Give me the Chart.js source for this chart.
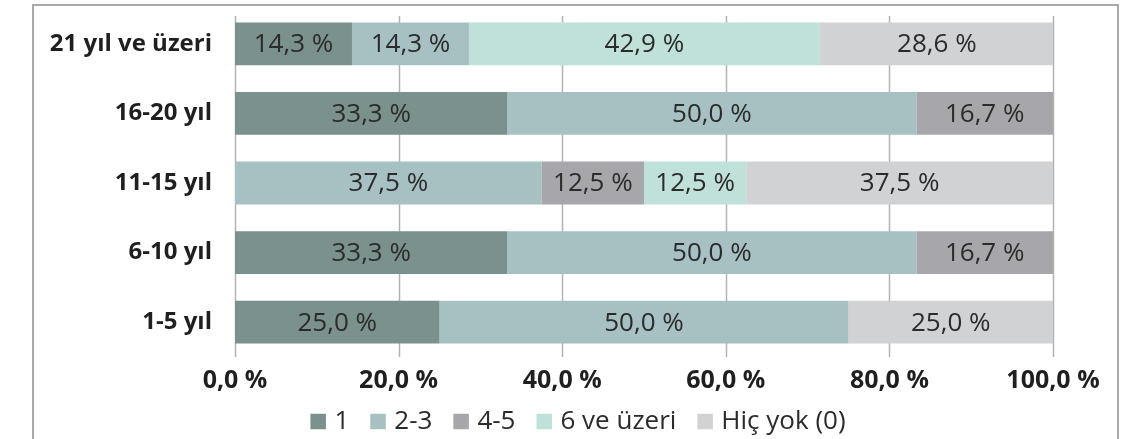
<!DOCTYPE html>
<html>
<head>
<meta charset="utf-8">
<script src="https://cdn.jsdelivr.net/npm/chart.js@4.4.1/dist/chart.umd.min.js"></script>
<style>
  html, body { margin: 0; padding: 0; background: #fff; overflow: hidden; }
  #wrap { position: relative; width: 1148px; height: 439px; }
  #frame { position: absolute; left: 32px; top: 4px; width: 1087px; height: 460px; border: 2px solid #a9a9a9; box-sizing: border-box; }
  canvas { position: absolute; left: 0; top: 0; }
</style>
</head>
<body>
<div id="wrap">
  <div id="frame"></div>
  <canvas id="c" width="1148" height="439"></canvas>
</div>
<script>
// kategoriler (yukarıdan aşağıya)
const categories = ['21 yıl ve üzeri', '16-20 yıl', '11-15 yıl', '6-10 yıl', '1-5 yıl'];
const seriesNames = ['1', '2-3', '4-5', '6 ve üzeri', 'Hiç yok (0)'];

const s1 = [14.3, 33.3, 0, 33.3, 25.0];
const s23 = [14.3, 50.0, 37.5, 50.0, 50.0];
const s45 = [0, 16.7, 12.5, 16.7, 0];
const s6plus = [42.9, 0, 12.5, 0, 0];
const sNone = [28.6, 0, 37.5, 0, 25.0];

const xTicks = [0, 20, 40, 60, 80, 100];
const colors = ['#7a918d', '#a7c1c2', '#a7a7ab', '#c0e0da', '#d1d2d4'];

const fmt = v => v.toFixed(1).replace('.', ',') + ' %';
const FONT = "'Open Sans', sans-serif";

// dikey kılavuz çizgileri
const gridPlugin = {
  id: 'grid',
  beforeDatasetsDraw(chart) {
    const { ctx, chartArea, scales } = chart;
    ctx.save();
    ctx.strokeStyle = '#b3b3b3';
    ctx.lineWidth = 1.5;
    xTicks.forEach(t => {
      const x = Math.round(scales.x.getPixelForValue(t)) + 0.5;
      ctx.beginPath();
      ctx.moveTo(x, chartArea.top + 7);
      ctx.lineTo(x, chartArea.bottom);
      ctx.stroke();
    });
    ctx.restore();
  }
};

// çubuk etiketleri
const labelPlugin = {
  id: 'labels',
  afterDatasetsDraw(chart) {
    const { ctx } = chart;
    ctx.save();
    ctx.font = "26px " + FONT;
    ctx.fillStyle = '#2b2b2b';
    ctx.textAlign = 'center';
    ctx.textBaseline = 'middle';
    chart.data.datasets.forEach((ds, i) => {
      chart.getDatasetMeta(i).data.forEach((bar, j) => {
        const v = ds.data[j];
        if (!v) return;
        const cx = (bar.x + bar.base) / 2;
        ctx.fillText(fmt(v), cx, bar.y + 1);
      });
    });
    ctx.restore();
  }
};

// alttaki gösterge (ortalanmış tek satır)
const legendPlugin = {
  id: 'myLegend',
  afterDraw(chart) {
    const { ctx } = chart;
    const box = 15.5, gap = 8.5, spacing = 21;
    const cy = 421.5, centerX = 578;
    ctx.save();
    ctx.font = "26px " + FONT;
    ctx.textBaseline = 'middle';
    const items = chart.data.datasets.map(ds => ({
      text: ds.label, color: ds.backgroundColor, w: ctx.measureText(ds.label).width
    }));
    const total = items.reduce((a, it) => a + box + gap + it.w, 0) + spacing * (items.length - 1);
    let x = centerX - total / 2;
    items.forEach(it => {
      ctx.fillStyle = it.color;
      ctx.fillRect(x, cy - box / 2, box, box);
      ctx.fillStyle = '#2b2b2b';
      ctx.textAlign = 'left';
      ctx.fillText(it.text, x + box + gap, cy);
      x += box + gap + it.w + spacing;
    });
    ctx.restore();
  }
};

new Chart(document.getElementById('c'), {
  type: 'bar',
  data: {
    labels: categories,
    datasets: [s1, s23, s45, s6plus, sNone].map((d, i) => ({
      label: seriesNames[i],
      data: d,
      backgroundColor: colors[i],
      borderWidth: 0,
      categoryPercentage: 1,
      barPercentage: 0.615
    }))
  },
  options: {
    indexAxis: 'y',
    responsive: false,
    animation: false,
    layout: { padding: { left: 0, right: 95, top: 9, bottom: 40 } },
    scales: {
      x: {
        stacked: true,
        min: 0,
        max: 100,
        afterBuildTicks: s => { s.ticks = xTicks.map(v => ({ value: v })); },
        afterFit: s => { s.height = 42; },
        grid: { display: false, drawTicks: false },
        border: { display: false },
        ticks: {
          padding: 9,
          color: '#1f1f1f',
          font: { family: FONT, size: 25, weight: 'bold' },
          callback: v => fmt(v)
        }
      },
      y: {
        stacked: true,
        afterFit: s => { s.width = 235; },
        grid: { display: false, drawTicks: true, tickLength: 23 },
        border: { display: false },
        ticks: {
          padding: 0,
          color: '#1f1f1f',
          font: { family: FONT, size: 24, weight: 'bold', lineHeight: 0.7 }
        }
      }
    },
    plugins: {
      tooltip: { enabled: false },
      legend: { display: false }
    }
  },
  plugins: [gridPlugin, labelPlugin, legendPlugin]
});
</script>
</body>
</html>
